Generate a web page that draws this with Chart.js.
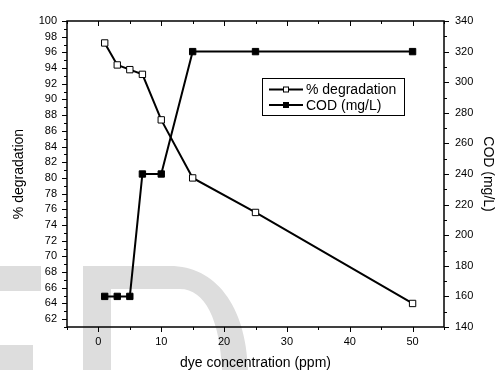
<!DOCTYPE html>
<html lang="en">
<head>
  <meta charset="UTF-8" />
  <title>Degradation vs dye concentration</title>
  <style>
    body { margin: 0; background: #fff; }
    canvas { display: block; }
  </style>
</head>
<body>
  <canvas id="chart" width="496" height="370"></canvas>

  <script src="https://cdn.jsdelivr.net/npm/chart.js"></script>
  <script>
    // values
    const dyeConc = [1, 3, 5, 7, 10, 15, 25, 50];
    const degradation = [97.2, 94.4, 93.8, 93.2, 87.4, 80.0, 75.6, 64.0];
    const cod = [160, 160, 160, 240, 240, 320, 320, 320];
    const seriesNames = ["% degradation", "COD (mg/L)"];

    const FONT = "'Liberation Sans', Arial, sans-serif";

    // light grey watermark behind the plot
    const watermark = {
      id: "watermark",
      beforeDraw(chart) {
        const ctx = chart.ctx;
        ctx.save();
        ctx.fillStyle = "#dddddd";
        ctx.fillRect(0, 266, 41, 25);
        ctx.fillRect(0, 345, 33, 25);
        ctx.beginPath();
        ctx.moveTo(83, 266);
        ctx.lineTo(170, 266);
        ctx.bezierCurveTo(215, 266, 246, 305, 248, 370);
        ctx.lineTo(83, 370);
        ctx.closePath();
        ctx.moveTo(111, 289);
        ctx.lineTo(111, 370);
        ctx.lineTo(222, 370);
        ctx.bezierCurveTo(220, 320, 205, 289, 180, 289);
        ctx.closePath();
        ctx.fill("evenodd");
        ctx.restore();
      }
    };

    // frame, inward/outward ticks and the boxed legend
    const frame = {
      id: "frame",
      afterDatasetsDraw(chart) {
        const { ctx, chartArea: a, scales } = chart;
        ctx.save();
        ctx.strokeStyle = "#000";
        ctx.lineWidth = 1.5;
        ctx.strokeRect(a.left, a.top, a.right - a.left, a.bottom - a.top);

        ctx.lineWidth = 1;
        ctx.beginPath();
        scales.x.ticks.forEach(t => {
          const px = Math.round(scales.x.getPixelForValue(t.value)) + 0.5;
          const len = t.value % 10 === 0 ? 5 : 3;
          ctx.moveTo(px, a.bottom); ctx.lineTo(px, a.bottom + len);
          ctx.moveTo(px, a.top); ctx.lineTo(px, a.top + len);
        });
        scales.y.ticks.forEach(t => {
          const py = Math.round(scales.y.getPixelForValue(t.value)) + 0.5;
          const len = t.value % 2 === 0 ? 5 : 3;
          ctx.moveTo(a.left, py); ctx.lineTo(a.left - len, py);
        });
        scales.y2.ticks.forEach(t => {
          const py = Math.round(scales.y2.getPixelForValue(t.value)) + 0.5;
          const len = t.value % 20 === 0 ? 5 : 3;
          ctx.moveTo(a.right, py); ctx.lineTo(a.right + len, py);
        });
        ctx.stroke();

        // legend box
        const bx = 262, by = 78, bw = 142, bh = 37;
        ctx.lineWidth = 1;
        ctx.strokeRect(bx + 0.5, by + 0.5, bw, bh);
        ctx.font = "14px " + FONT;
        ctx.textBaseline = "middle";
        ctx.fillStyle = "#000";
        chart.data.datasets.forEach((ds, i) => {
          const yy = by + 11.5 + i * 15.5;
          ctx.lineWidth = 2;
          ctx.beginPath();
          ctx.moveTo(bx + 7, yy); ctx.lineTo(bx + 41, yy);
          ctx.stroke();
          ctx.lineWidth = 1;
          ctx.fillStyle = ds.pointBackgroundColor;
          ctx.fillRect(bx + 21, yy - 3, 6, 6);
          ctx.strokeRect(bx + 21.5, yy - 2.5, 5, 5);
          ctx.fillStyle = "#000";
          ctx.fillText(ds.label, bx + 44, yy + 1);
        });
        ctx.restore();
      }
    };

    const pts = ys => dyeConc.map((x, i) => ({ x: x, y: ys[i] }));

    new Chart(document.getElementById("chart"), {
      type: "scatter",
      data: {
        datasets: [{
          label: seriesNames[0],
          data: pts(degradation),
          yAxisID: "y",
          showLine: true,
          borderColor: "#000",
          borderWidth: 2,
          pointStyle: "rect",
          pointRadius: 4.5,
          pointBorderWidth: 1,
          pointBorderColor: "#000",
          pointBackgroundColor: "#fff"
        }, {
          label: seriesNames[1],
          data: pts(cod),
          yAxisID: "y2",
          showLine: true,
          borderColor: "#000",
          borderWidth: 2,
          pointStyle: "rect",
          pointRadius: 4.5,
          pointBorderWidth: 1,
          pointBorderColor: "#000",
          pointBackgroundColor: "#000"
        }]
      },
      options: {
        responsive: false,
        animation: false,
        devicePixelRatio: 1,
        layout: { padding: { top: 21, left: 0, right: 0, bottom: 0 } },
        plugins: { legend: { display: false }, tooltip: { enabled: false } },
        scales: {
          x: {
            type: "linear",
            min: -5, max: 55,
            grid: { display: false },
            border: { display: false },
            afterFit: s => { s.height = 43; },
            ticks: {
              stepSize: 5,
              padding: 0,
              color: "#000",
              font: { family: FONT, size: 11 },
              maxRotation: 0,
              autoSkip: false,
              callback: v => (v % 10 === 0 && v >= 0 && v <= 50) ? v : ""
            },
            title: {
              display: true,
              text: "dye concentration (ppm)",
              color: "#000",
              font: { family: FONT, size: 14 },
              padding: { top: 0, bottom: -2 }
            }
          },
          y: {
            position: "left",
            min: 61, max: 100,
            grid: { display: false },
            border: { display: false },
            afterFit: s => { s.width = 67; },
            ticks: {
              stepSize: 1,
              padding: 2,
              color: "#000",
              autoSkip: false,
              font: { family: FONT, size: 11 },
              callback: v => v % 2 === 0 ? v : ""
            },
            title: {
              display: true,
              text: "% degradation",
              color: "#000",
              font: { family: FONT, size: 14 },
              padding: { top: 11, bottom: 0 }
            }
          },
          y2: {
            position: "right",
            min: 140, max: 340,
            grid: { display: false },
            border: { display: false },
            afterFit: s => { s.width = 52; },
            ticks: {
              stepSize: 10,
              padding: 3,
              color: "#000",
              autoSkip: false,
              font: { family: FONT, size: 11 },
              callback: v => v % 20 === 0 ? v : ""
            },
            title: {
              display: true,
              text: "COD (mg/L)",
              color: "#000",
              font: { family: FONT, size: 14 },
              padding: { top: 0, bottom: 0 }
            }
          }
        }
      },
      plugins: [watermark, frame]
    });
  </script>
</body>
</html>
